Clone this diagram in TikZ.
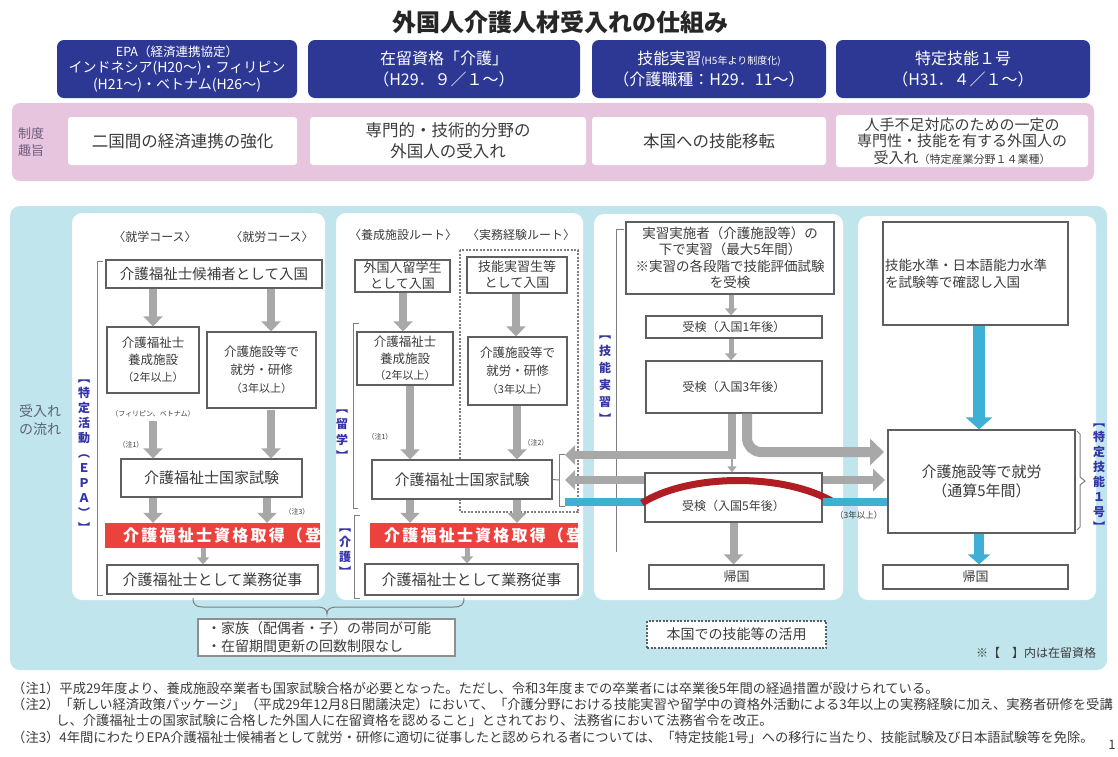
\documentclass[tikz,border=0pt]{standalone}
\usepackage{fontspec}
\setmainfont{Noto Sans CJK JP}
\usetikzlibrary{arrows.meta}
\definecolor{hdrblue}{RGB}{45,56,148}
\definecolor{pinkband}{RGB}{231,197,223}
\definecolor{skyback}{RGB}{192,229,236}
\definecolor{boxline}{RGB}{95,95,95}
\definecolor{txtgray}{RGB}{60,60,60}
\definecolor{arrgray}{RGB}{168,168,168}
\definecolor{cyanarr}{RGB}{62,176,214}
\definecolor{redbar}{RGB}{236,66,62}
\definecolor{arcred}{RGB}{176,30,36}
\definecolor{lblblue}{RGB}{52,52,168}
\definecolor{labelgray}{RGB}{112,92,128}
\definecolor{flowgray}{RGB}{90,100,118}
\newcommand\fs[2]{\fontsize{#1}{#2}\selectfont}
\newcommand\lsp{\kern2.2pt}
\tikzset{
  bx/.style args={#1/#2/#3/#4}{minimum width={(#3)-(#1)}, minimum height={(#4)-(#2)}, at={({((#1)+(#3))/2},{((#2)+(#4))/2})}},
  hdr/.style={fill=hdrblue, rounded corners=7pt, text=white, align=center, inner sep=0pt},
  wbox/.style={fill=white, rounded corners=3pt, text=txtgray, align=center, inner sep=0pt},
  fbox/.style={draw=boxline, line width=1.3pt, fill=white, text=txtgray, align=center, inner sep=0pt},
  dotbox/.style={draw=boxline, line width=1.2pt, dash pattern=on 2pt off 1.5pt, fill=white, text=txtgray, align=center, inner sep=0pt},
  redfill/.style={fill=redbar, draw=none, inner sep=0pt},
  redtxt/.style={text=white, font=\fs{16}{18}\bfseries, inner sep=0pt},
  vlab/.style={text=lblblue, align=center, font=\fs{12}{15}\bfseries, inner sep=0pt},
  notelab/.style={text=txtgray, font=\fs{7}{8}, inner sep=0pt},
  notetxt/.style={text=txtgray, font=\fs{13.3}{15}, inner sep=0pt, anchor=west},
  garrow/.style={draw=arrgray, line width=8pt, -{Triangle[width=19pt,length=10pt]}},
  gsmall/.style={draw=arrgray, line width=5pt, -{Triangle[width=12pt,length=7pt]}},
  gbig/.style={draw=arrgray, line width=10pt, -{Triangle[width=26pt,length=14pt]}},
  bluearr/.style={draw=cyanarr, line width=12pt, -{Triangle[width=26pt,length=12pt]}},
  bluebar/.style={draw=cyanarr, line width=8pt},
  brk/.style={draw=boxline!80, line width=1pt},
  dotln/.style={draw=boxline!80, line width=1.3pt, dash pattern=on 2pt off 1.5pt},
}
\begin{document}
\begin{tikzpicture}[x=1pt,y=-1pt]
\useasboundingbox (0,0) rectangle (1118,756);
\fill[white] (0,0) rectangle (1118,756);

% title
\node[font=\fs{24}{28}\bfseries, text=black!85] (title) at (560,22) {外国人介護人材受入れの仕組み};

% header boxes
\node[hdr, bx=57/40/297/98, font=\fs{14}{16.5}] (h1) {{\fs{12.5}{16.5}EPA（経済連携協定）}\\インドネシア(H20～)・フィリピン\\(H21～)・ベトナム(H26～)};
\node[hdr, bx=308/40/580/98, font=\fs{16}{21}] (h2) {在留資格「介護」\\（H29．９／１～）};
\node[hdr, bx=592/40/826/98, font=\fs{16}{21}] (h3) {技能実習{\fs{10}{12}(H5年より制度化)}\\（介護職種：H29．11～）};
\node[hdr, bx=836/40/1090/98, font=\fs{16}{21}] (h4) {特定技能１号\\（H31．４／１～）};

% purpose band
\fill[pinkband, rounded corners=8pt] (12,103) rectangle (1094,181);
\node[font=\fs{13}{17}, text=labelgray, align=center] (purpose) at (31,142) {制度\\趣旨};
\node[wbox, bx=68/117/297/165, font=\fs{16.5}{21}] (w1) {二国間の経済連携の強化};
\node[wbox, bx=310/117/586/165, font=\fs{16.5}{21}] (w2) {専門的・技術的分野の\\外国人の受入れ};
\node[wbox, bx=592/117/826/165, font=\fs{16.5}{21}] (w3) {本国への技能移転};
\node[wbox, bx=836/115/1088/167, font=\fs{15}{16.5}] (w4) {人手不足対応のための一定の\\専門性・技能を有する外国人の\\受入れ{\fs{11}{13}（特定産業分野１４業種）}};

% flow area
\fill[skyback, rounded corners=10pt] (10,206) rectangle (1107,670);
\node[font=\fs{14}{18}, text=flowgray, align=left] (flow) at (40,420) {受入れ\\の流れ};
\fill[white, rounded corners=10pt] (72,213) rectangle (325,600);
\fill[white, rounded corners=10pt] (336,213) rectangle (583,600);
\fill[white, rounded corners=10pt] (594,214) rectangle (843,600);
\fill[white, rounded corners=10pt] (858,216) rectangle (1096,600);

% ---------- panel 1 : EPA ----------
\node[font=\fs{12}{14}, text=txtgray] (c1a) at (155,237) {〈就学コース〉};
\node[font=\fs{12}{14}, text=txtgray] (c1b) at (272,237) {〈就労コース〉};
\draw[brk] (103,261) -- (97,261) -- (97,595) -- (103,595);
\node[vlab] (vEPA) at (84,456) {︻\\特\\定\\活\\動\\︵\\Ｅ\\Ｐ\\Ａ\\︶\\︼};
\node[fbox, bx=106/260/322/288, font=\fs{14.5}{17}] (p1entry) {介護福祉士候補者として入国};
\node[fbox, bx=107/327/199/393, font=\fs{12.5}{17}] (p1yosei) {介護福祉士\\養成施設\\{\fs{11}{13}（2年以上）}};
\node[fbox, bx=207/332/316/408, font=\fs{12.5}{18}] (p1shuro) {介護施設等で\\就労・研修\\{\fs{11}{13}（3年以上）}};
\node[notelab] (p1phil) at (153,414) {（フィリピン、ベトナム）};
\node[notelab] (p1n1) at (131,445) {（注1）};
\node[fbox, bx=121/459/302/497, font=\fs{15}{18}] (p1exam) {介護福祉士国家試験};
\node[notelab] (p1n3) at (297,512) {（注3）};
\node[redfill, bx=105/523/320/548] (p1red) {};
\begin{scope}
\clip (105,523) rectangle (320,548);
\node[redtxt, anchor=west] (p1redt) at (123,535.5) {介\lsp 護\lsp 福\lsp 祉\lsp 士\lsp 資\lsp 格\lsp 取\lsp 得\lsp （\lsp 登};
\end{scope}
\node[fbox, bx=107/565/318/594, font=\fs{15}{18}] (p1work) {介護福祉士として業務従事};
\coordinate (x1a) at (153,0);
\coordinate (x1b) at (271,0);
\coordinate (y1a) at (0,421);
\coordinate (y1b) at (0,410);
\draw[garrow] (p1entry.south -| x1a) -- (p1yosei.north -| x1a);
\draw[garrow] (p1entry.south -| x1b) -- (p1shuro.north -| x1b);
\draw[garrow] (x1a |- y1a) -- (p1exam.north -| x1a);
\draw[garrow] (x1b |- y1b) -- (p1exam.north -| x1b);
\draw[garrow] (p1exam.south -| x1a) -- (p1red.north -| x1a);
\coordinate (x1c) at (267,0);
\draw[garrow] (p1exam.south -| x1c) -- (p1red.north -| x1c);
\coordinate (x1d) at (203,0);
\draw[gsmall] (p1red.south -| x1d) -- (p1work.north -| x1d);

% ---------- panel 2 : Kaigo ----------
\node[font=\fs{12}{14}, text=txtgray] (c2a) at (403,235) {〈養成施設ルート〉};
\node[font=\fs{12}{14}, text=txtgray] (c2b) at (521,235) {〈実務経験ルート〉};
\draw[dotln] (460,250) rectangle (578,512);
\draw[brk] (359,323) -- (353,323) -- (353,508) -- (358,508);
\draw[brk] (360,515) -- (354,515) -- (354,598) -- (360,598);
\node[vlab, font=\fs{12}{16}\bfseries] (vRyu) at (342,435) {︻\\留\\学\\︼};
\node[vlab] (vKai) at (345,553) {︻\\介\\護\\︼};
\node[fbox, bx=355/260/450/292, font=\fs{13}{16}] (p2entA) {外国人留学生\\として入国};
\node[fbox, bx=467/257/567/293, font=\fs{13}{16}] (p2entB) {技能実習生等\\として入国};
\node[fbox, bx=357/332/453/385, font=\fs{12.5}{16.5}] (p2yosei) {介護福祉士\\養成施設\\{\fs{11}{13}（2年以上）}};
\node[fbox, bx=468/337/567/405, font=\fs{12.5}{18}] (p2shuro) {介護施設等で\\就労・研修\\{\fs{11}{13}（3年以上）}};
\node[notelab] (p2n1) at (380,437) {（注1）};
\node[notelab] (p2n2) at (536,443) {（注2）};
\node[fbox, bx=372/460/552/499, font=\fs{15}{18}] (p2exam) {介護福祉士国家試験};
\node[redfill, bx=370/523/578/548] (p2red) {};
\begin{scope}
\clip (370,523) rectangle (578,548);
\node[redtxt, anchor=west] (p2redt) at (384,535.5) {介\lsp 護\lsp 福\lsp 祉\lsp 士\lsp 資\lsp 格\lsp 取\lsp 得\lsp （\lsp 登};
\end{scope}
\node[fbox, bx=365/564/578/595, font=\fs{15}{18}] (p2work) {介護福祉士として業務従事};
\coordinate (x2a) at (403,0);
\coordinate (x2b) at (516,0);
\coordinate (x2c) at (410,0);
\coordinate (x2d) at (517,0);
\coordinate (x2e) at (467,0);
\draw[garrow] (p2entA.south -| x2a) -- (p2yosei.north -| x2a);
\draw[garrow] (p2entB.south -| x2b) -- (p2shuro.north -| x2b);
\draw[garrow] (p2yosei.south -| x2c) -- (p2exam.north -| x2c);
\draw[garrow] (p2shuro.south -| x2d) -- (p2exam.north -| x2d);
\draw[garrow] (p2exam.south -| x2c) -- (p2red.north -| x2c);
\draw[garrow] (p2exam.south -| x2d) -- (p2red.north -| x2d);
\draw[gsmall] (p2red.south -| x2e) -- (p2work.north -| x2e);
\draw[brk] (p2exam.east) -- (559,480);
\draw[brk] (565,454) -- (559,454) -- (559,506) -- (565,506);

% ---------- panel 3 : technical intern ----------
\draw[brk] (624,229) -- (616,229) -- (616,552);
\node[vlab, font=\fs{12}{17}\bfseries] (vGin) at (605,380) {︻\\技\\能\\実\\習\\︼};
\node[fbox, bx=626/222/834/294, font=\fs{13.5}{16.5}] (p3top) {実習実施者（介護施設等）の\\下で実習（最大5年間）\\※実習の各段階で技能評価試験\\を受検};
\node[fbox, bx=646/316/822/338, font=\fs{12}{14}] (p3y1) {受検（入国1年後）};
\node[fbox, bx=646/361/822/413, font=\fs{12}{14}] (p3y3) {受検（入国3年後）};
\node[fbox, bx=645/473/822/522] (p3y5) {};
\node[font=\fs{12}{14}, text=txtgray, inner sep=0pt] (p3y5t) at (733.5,506) {受検（入国5年後）};
\node[fbox, bx=649/565/824/589, font=\fs{13}{15}] (p3home) {帰国};
\node[dotbox, bx=647/621/826/648, font=\fs{14}{17}] (p3use) {本国での技能等の活用};
\coordinate (x3a) at (731,0);
\draw[gsmall] (p3top.south -| x3a) -- (p3y1.north -| x3a);
\draw[gsmall] (p3y1.south -| x3a) -- (p3y3.north -| x3a);
\coordinate (cA) at (732,455);
\coordinate (cAend) at (565,455);
\draw[garrow] (p3y3.south -| cA) -- (cA) -- (cAend);
\draw[draw=arrgray, line width=2.5pt, -{Triangle[width=9pt,length=6pt]}] (cA) -- (cA |- p3y5.north);
\coordinate (cB) at (747,452);
\coordinate (cBend) at (884,452);
\draw[gbig, rounded corners=14pt] (p3y3.south -| cB) -- (cB) -- (cBend);
\coordinate (cC) at (565,480);
\draw[garrow] (p3y5.west |- cC) -- (cC);
\coordinate (cD) at (885,480);
\draw[garrow, -{Triangle[width=22pt,length=12pt]}] (p3y5.east |- cD) -- (cD);
\coordinate (cE) at (565,502);
\draw[bluebar] (cE) -- (p3y5.west |- cE);
\draw[garrow] (p3y5.south) -- (p3y5.south |- p3home.north);
\draw[arcred, line width=7pt] (642,503) .. controls (690,473) and (786,473) .. (835,503);
\node[font=\fs{8.5}{10}, text=txtgray, inner sep=0pt, anchor=west] (yrs3) at (835,515) {（3年以上）};

% ---------- panel 4 : specified skilled worker ----------
\node[fbox, bx=883/222/1068/325, align=left, text width=181pt, font=\fs{13.5}{17}] (p4top) {技能水準・日本語能力水準\\を試験等で確認し入国};
\node[fbox, bx=888/430/1075/533, font=\fs{15}{19}] (p4work) {介護施設等で就労\\（通算5年間）};
\node[fbox, bx=883/565/1068/589, font=\fs{13}{15}] (p4home) {帰国};
\draw[bluebar] (p3y5.east |- cE) -- (p4work.west |- cE);
\coordinate (x4a) at (979,0);
\draw[bluearr] (p4top.south -| x4a) -- (p4work.north -| x4a);
\draw[bluearr, line width=10pt, -{Triangle[width=22pt,length=10pt]}] (p4work.south -| x4a) -- (p4home.north -| x4a);
\draw[brk] (1077,431) -- (1080,434) -- (1080,477) -- (1085,481) -- (1080,485) -- (1080,527) -- (1077,530);
\node[vlab] (vTok) at (1099,478) {︻\\特\\定\\技\\能\\１\\号\\︼};

% ---------- bottom brace & family box ----------
\draw[brk] (193,598) .. controls (193,605) and (196,607) .. (203,607) -- (317,607) .. controls (324,607) and (327,609) .. (327,614) .. controls (327,609) and (330,607) .. (337,607) -- (454,607) .. controls (461,607) and (464,605) .. (464,598);
\node[fbox, draw=boxline!70, bx=198/619/455/656, align=left, text width=239pt, font=\fs{14}{18}] (family) {・家族（配偶者・子）の帯同が可能\\・在留期間更新の回数制限なし};
\node[font=\fs{12}{14}, text=txtgray, inner sep=0pt] (legend) at (1036,653) {※【　】内は在留資格};

% ---------- notes ----------
\node[notetxt] (n1) at (12,688) {（注1）平成29年度より、養成施設卒業者も国家試験合格が必要となった。ただし、令和3年度までの卒業者には卒業後5年間の経過措置が設けられている。};
\node[notetxt] (n2) at (12,704) {（注2）「新しい経済政策パッケージ」（平成29年12月8日閣議決定）において、「介護分野における技能実習や留学中の資格外活動による3年以上の実務経験に加え、実務者研修を受講};
\node[notetxt] (n2b) at (56,720) {し、介護福祉士の国家試験に合格した外国人に在留資格を認めること」とされており、法務省において法務省令を改正。};
\node[notetxt] (n3) at (12,737) {（注3）4年間にわたりEPA介護福祉士候補者として就労・研修に適切に従事したと認められる者については、「特定技能1号」への移行に当たり、技能試験及び日本語試験等を免除。};
\node[font=\fs{13}{15}, text=txtgray, inner sep=0pt] (pageno) at (1112,745) {1};
\end{tikzpicture}
\end{document}
